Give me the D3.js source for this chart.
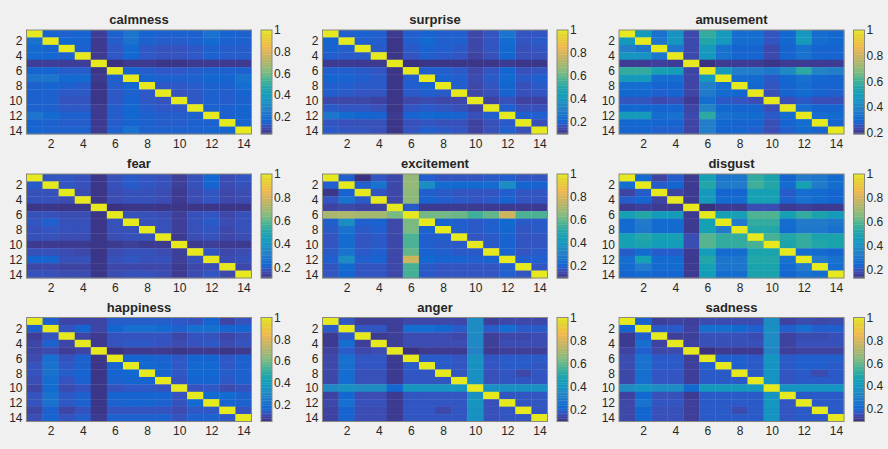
<!DOCTYPE html>
<html>
<head>
<meta charset="utf-8">
<script src="https://cdn.jsdelivr.net/npm/d3@7"></script>
<style>
  body { margin: 0; background: #f0f0f0; }
  text { font-family: "Liberation Sans", Arial, Helvetica, sans-serif; fill: #262626; }
</style>
</head>
<body>
<div class="svg-container"></div>
<script>
// emotion names, one panel each (row by row)
const emotions = ["calmness", "surprise", "amusement", "fear", "excitement", "disgust", "happiness", "anger", "sadness"];
const axisTicks = [2, 4, 6, 8, 10, 12, 14];
const colorTicks = [0.2, 0.4, 0.6, 0.8, 1];

// 14 x 14 similarity matrices
const calmness = [
  [1,.16,.15,.16,.07,.15,.22,.16,.15,.15,.15,.21,.16,.15],
  [.21,1,.17,.16,.06,.14,.21,.15,.14,.14,.15,.18,.15,.15],
  [.18,.16,1,.15,.06,.13,.18,.13,.12,.12,.13,.15,.14,.14],
  [.18,.17,.15,1,.06,.13,.17,.13,.12,.12,.13,.15,.14,.14],
  [.07,.07,.07,.07,1,.04,.06,.06,.05,.05,.06,.06,.06,.06],
  [.16,.16,.14,.14,.05,1,.16,.14,.13,.13,.14,.15,.15,.15],
  [.22,.23,.18,.18,.06,.15,1,.16,.15,.15,.15,.17,.16,.21],
  [.15,.16,.15,.14,.05,.14,.17,1,.13,.13,.14,.15,.15,.19],
  [.15,.15,.13,.13,.05,.13,.15,.13,1,.12,.13,.15,.14,.16],
  [.15,.15,.12,.12,.05,.13,.16,.13,.12,1,.13,.15,.14,.15],
  [.15,.15,.13,.13,.06,.14,.17,.14,.13,.13,1,.15,.15,.16],
  [.22,.18,.15,.15,.06,.14,.17,.15,.14,.14,.15,1,.15,.16],
  [.16,.15,.14,.14,.06,.14,.16,.15,.14,.14,.15,.15,1,.16],
  [.16,.15,.15,.15,.06,.15,.21,.15,.15,.15,.15,.16,.16,1]
];
const surprise = [
  [1,.19,.20,.19,.11,.19,.20,.19,.19,.14,.17,.26,.17,.17],
  [.21,1,.19,.19,.10,.19,.22,.19,.19,.14,.17,.23,.17,.18],
  [.20,.19,1,.18,.10,.18,.20,.19,.18,.14,.17,.22,.16,.17],
  [.19,.18,.18,1,.10,.17,.19,.18,.17,.13,.16,.21,.16,.16],
  [.11,.11,.11,.11,1,.09,.10,.10,.10,.10,.10,.11,.10,.10],
  [.19,.19,.18,.17,.10,1,.19,.19,.18,.14,.17,.21,.16,.17],
  [.21,.20,.19,.18,.10,.19,1,.20,.19,.15,.18,.22,.18,.19],
  [.19,.19,.18,.18,.10,.19,.20,1,.19,.14,.17,.21,.16,.18],
  [.19,.18,.17,.17,.10,.18,.19,.18,1,.14,.16,.20,.16,.17],
  [.14,.14,.14,.13,.10,.14,.15,.14,.14,1,.13,.16,.13,.13],
  [.18,.17,.17,.16,.10,.17,.18,.17,.16,.13,1,.19,.16,.16],
  [.27,.23,.21,.20,.11,.20,.22,.21,.20,.16,.19,1,.19,.19],
  [.17,.16,.16,.16,.10,.16,.17,.16,.16,.13,.16,.18,1,.16],
  [.18,.17,.17,.16,.10,.17,.19,.18,.17,.13,.16,.19,.16,1]
];
const amusement = [
  [1,.48,.33,.45,.24,.58,.48,.32,.32,.26,.30,.47,.32,.30],
  [.48,1,.35,.46,.24,.55,.47,.32,.32,.26,.30,.48,.32,.30],
  [.38,.35,1,.35,.24,.48,.33,.29,.29,.24,.29,.33,.29,.29],
  [.46,.45,.35,1,.24,.47,.33,.29,.29,.24,.29,.33,.29,.29],
  [.21,.21,.22,.21,1,.19,.21,.21,.21,.20,.21,.21,.21,.21],
  [.58,.58,.52,.50,.23,1,.48,.38,.38,.35,.42,.57,.40,.38],
  [.48,.48,.32,.32,.23,.48,1,.32,.31,.27,.30,.33,.30,.29],
  [.32,.32,.29,.29,.23,.38,.32,1,.30,.26,.29,.32,.29,.29],
  [.30,.30,.28,.29,.23,.36,.31,.30,1,.25,.29,.31,.29,.28],
  [.26,.26,.24,.25,.21,.32,.27,.26,.25,1,.25,.27,.25,.25],
  [.30,.30,.29,.29,.23,.40,.30,.29,.29,.25,1,.32,.29,.29],
  [.48,.48,.32,.33,.24,.57,.33,.32,.31,.27,.32,1,.32,.31],
  [.30,.30,.29,.29,.23,.38,.30,.29,.29,.25,.29,.32,1,.29],
  [.29,.29,.28,.28,.23,.38,.29,.29,.28,.25,.28,.31,.29,1]
];
const fear = [
  [1,.19,.19,.18,.12,.18,.20,.19,.18,.14,.18,.23,.17,.19],
  [.20,1,.19,.18,.12,.18,.20,.19,.18,.14,.18,.22,.17,.18],
  [.18,.18,1,.17,.12,.17,.18,.18,.17,.13,.17,.19,.16,.17],
  [.18,.18,.17,1,.12,.17,.18,.18,.17,.13,.17,.19,.16,.17],
  [.12,.12,.12,.12,1,.11,.12,.12,.12,.12,.12,.12,.12,.12],
  [.18,.18,.17,.17,.12,1,.18,.18,.17,.14,.18,.19,.16,.18],
  [.19,.21,.18,.18,.12,.18,1,.18,.18,.14,.18,.20,.17,.18],
  [.18,.19,.18,.18,.12,.18,.18,1,.18,.14,.18,.19,.16,.18],
  [.18,.18,.17,.17,.12,.17,.18,.18,1,.13,.17,.18,.16,.17],
  [.13,.13,.13,.13,.12,.13,.14,.13,.13,1,.13,.14,.13,.13],
  [.18,.18,.17,.16,.12,.17,.18,.18,.17,.14,1,.19,.16,.17],
  [.22,.22,.18,.18,.12,.18,.19,.18,.18,.14,.18,1,.17,.18],
  [.16,.16,.15,.15,.12,.16,.16,.16,.16,.13,.16,.17,1,.16],
  [.18,.18,.17,.17,.12,.17,.18,.18,.17,.13,.17,.19,.16,1]
];
const excitement = [
  [1,.19,.09,.17,.14,.67,.19,.17,.17,.17,.18,.19,.17,.17],
  [.19,1,.19,.25,.14,.67,.36,.23,.22,.22,.23,.36,.21,.20],
  [.10,.20,1,.17,.14,.66,.19,.18,.17,.17,.17,.19,.17,.17],
  [.17,.25,.18,1,.14,.66,.20,.19,.18,.17,.18,.20,.17,.17],
  [.13,.14,.13,.13,1,.18,.11,.11,.11,.11,.11,.11,.11,.11],
  [.71,.72,.70,.70,.63,1,.62,.62,.61,.55,.60,.78,.57,.57],
  [.19,.36,.19,.20,.14,.63,1,.20,.19,.18,.19,.22,.18,.18],
  [.18,.25,.18,.19,.14,.63,.20,1,.19,.18,.19,.21,.17,.18],
  [.17,.23,.17,.18,.14,.57,.19,.19,1,.17,.18,.20,.17,.17],
  [.17,.23,.17,.18,.14,.57,.19,.18,.18,1,.18,.20,.17,.17],
  [.18,.25,.18,.19,.14,.60,.20,.19,.18,.18,1,.20,.17,.18],
  [.19,.36,.19,.20,.14,.78,.22,.20,.20,.19,.20,1,.19,.19],
  [.17,.22,.17,.17,.14,.56,.18,.17,.17,.17,.17,.19,1,.17],
  [.17,.21,.17,.17,.14,.56,.18,.17,.17,.17,.17,.19,.17,1]
];
const disgust = [
  [1,.26,.17,.22,.15,.48,.30,.30,.55,.50,.24,.32,.30,.26],
  [.27,1,.22,.24,.15,.52,.32,.32,.57,.52,.26,.48,.32,.27],
  [.17,.22,1,.17,.15,.44,.24,.24,.48,.48,.22,.27,.26,.24],
  [.22,.24,.17,1,.15,.45,.26,.26,.48,.48,.23,.28,.26,.24],
  [.15,.16,.15,.15,1,.13,.15,.15,.19,.19,.15,.16,.15,.15],
  [.48,.52,.45,.45,.15,1,.48,.48,.59,.59,.48,.55,.50,.45],
  [.26,.32,.26,.26,.15,.48,1,.32,.55,.55,.27,.32,.32,.30],
  [.26,.31,.26,.26,.15,.48,.32,1,.52,.52,.26,.31,.31,.28],
  [.48,.52,.48,.48,.19,.60,.55,.55,1,.58,.52,.55,.50,.50],
  [.48,.50,.46,.46,.19,.60,.55,.55,.58,1,.50,.55,.52,.50],
  [.22,.26,.22,.22,.15,.46,.26,.26,.50,.50,1,.27,.26,.24],
  [.27,.48,.26,.26,.15,.52,.30,.30,.52,.52,.28,1,.32,.28],
  [.26,.32,.26,.26,.15,.48,.30,.30,.50,.50,.26,.32,1,.27],
  [.24,.26,.24,.24,.15,.46,.27,.27,.50,.50,.24,.28,.27,1]
];
const happiness = [
  [1,.15,.09,.09,.09,.14,.14,.14,.14,.13,.12,.16,.09,.12],
  [.15,1,.12,.16,.09,.16,.20,.20,.18,.15,.20,.20,.16,.16],
  [.07,.12,1,.09,.06,.12,.12,.12,.12,.09,.12,.12,.09,.11],
  [.09,.15,.09,1,.06,.12,.13,.13,.12,.10,.12,.13,.10,.12],
  [.09,.10,.07,.09,1,.04,.06,.06,.06,.05,.06,.06,.05,.06],
  [.10,.20,.12,.15,.05,1,.16,.16,.15,.13,.16,.16,.13,.15],
  [.12,.21,.13,.15,.05,.16,1,.17,.16,.13,.17,.17,.13,.15],
  [.12,.21,.14,.16,.05,.16,.17,1,.16,.13,.17,.17,.14,.15],
  [.11,.19,.12,.15,.05,.15,.16,.16,1,.12,.16,.16,.13,.15],
  [.09,.18,.10,.12,.05,.12,.13,.13,.12,1,.12,.13,.10,.12],
  [.12,.21,.13,.15,.05,.16,.16,.16,.16,.12,1,.18,.18,.15],
  [.12,.21,.13,.15,.05,.15,.16,.16,.15,.12,.18,1,.16,.15],
  [.09,.15,.09,.12,.05,.12,.12,.12,.12,.10,.13,.13,1,.12],
  [.11,.16,.12,.14,.06,.15,.15,.15,.15,.12,.15,.15,.13,1]
];
const anger = [
  [1,.18,.13,.13,.13,.15,.15,.15,.15,.36,.13,.15,.15,.15],
  [.19,1,.18,.18,.13,.24,.24,.22,.19,.36,.19,.24,.19,.19],
  [.12,.19,1,.12,.13,.16,.16,.16,.15,.35,.13,.15,.15,.16],
  [.12,.24,.13,1,.13,.16,.16,.16,.16,.35,.13,.16,.16,.16],
  [.14,.19,.15,.16,1,.10,.12,.12,.12,.33,.12,.13,.13,.13],
  [.15,.25,.18,.18,.12,1,.19,.19,.18,.38,.18,.19,.19,.19],
  [.15,.25,.18,.18,.12,.19,1,.19,.18,.38,.18,.19,.19,.18],
  [.15,.24,.17,.17,.12,.18,.18,1,.18,.38,.17,.18,.15,.18],
  [.15,.24,.17,.17,.12,.18,.18,.18,1,.38,.17,.18,.18,.18],
  [.35,.38,.36,.36,.22,.40,.40,.40,.40,1,.38,.38,.38,.38],
  [.14,.22,.16,.16,.12,.18,.18,.18,.18,.38,1,.18,.18,.18],
  [.15,.25,.17,.17,.12,.18,.18,.18,.18,.40,.17,1,.18,.18],
  [.14,.21,.16,.16,.12,.18,.18,.15,.18,.38,.17,.18,1,.18],
  [.14,.21,.16,.16,.12,.18,.18,.18,.18,.38,.17,.18,.18,1]
];
const sadness = [
  [1,.20,.12,.13,.12,.15,.15,.15,.15,.36,.13,.15,.14,.15],
  [.21,1,.18,.18,.13,.24,.24,.22,.19,.37,.19,.24,.19,.19],
  [.11,.19,1,.12,.12,.16,.16,.16,.15,.35,.13,.15,.15,.16],
  [.11,.24,.13,1,.13,.16,.16,.16,.16,.35,.13,.16,.16,.16],
  [.13,.19,.14,.15,1,.09,.11,.11,.11,.33,.12,.13,.13,.13],
  [.15,.25,.18,.18,.12,1,.19,.19,.18,.39,.18,.19,.19,.19],
  [.15,.25,.18,.18,.12,.19,1,.19,.18,.39,.18,.19,.19,.18],
  [.14,.24,.17,.17,.12,.18,.18,1,.18,.39,.17,.18,.15,.18],
  [.14,.24,.17,.17,.12,.18,.18,.18,1,.39,.17,.18,.18,.18],
  [.35,.39,.36,.36,.22,.41,.41,.41,.41,1,.39,.39,.39,.39],
  [.13,.22,.16,.16,.11,.18,.18,.18,.18,.39,1,.18,.18,.18],
  [.14,.25,.17,.17,.12,.18,.18,.18,.18,.40,.17,1,.18,.18],
  [.14,.21,.16,.16,.12,.18,.18,.15,.18,.39,.17,.18,1,.18],
  [.14,.21,.16,.16,.12,.18,.18,.18,.18,.39,.17,.18,.18,1]
];

const matrices = [calmness, surprise, amusement, fear, excitement, disgust, happiness, anger, sadness];

// MATLAB parula colormap (64 entries), toned down a little like the printed figure
const parulaMap = [
  [.2081,.1663,.5292],[.2116,.1898,.5777],[.2123,.2138,.6270],[.2081,.2386,.6771],
  [.1959,.2645,.7279],[.1707,.2919,.7792],[.1253,.3242,.8303],[.0591,.3598,.8683],
  [.0117,.3875,.8820],[.0060,.4086,.8828],[.0165,.4266,.8786],[.0329,.4430,.8720],
  [.0498,.4586,.8641],[.0629,.4737,.8554],[.0723,.4887,.8467],[.0779,.5040,.8384],
  [.0793,.5200,.8312],[.0749,.5375,.8263],[.0641,.5570,.8240],[.0488,.5772,.8228],
  [.0343,.5966,.8199],[.0265,.6137,.8135],[.0239,.6287,.8038],[.0231,.6418,.7913],
  [.0228,.6535,.7768],[.0267,.6642,.7607],[.0384,.6743,.7436],[.0590,.6838,.7254],
  [.0843,.6928,.7062],[.1133,.7015,.6859],[.1453,.7098,.6646],[.1801,.7177,.6424],
  [.2178,.7250,.6193],[.2586,.7317,.5954],[.3022,.7376,.5712],[.3482,.7424,.5473],
  [.3953,.7459,.5244],[.4420,.7481,.5033],[.4871,.7491,.4840],[.5300,.7491,.4661],
  [.5709,.7485,.4494],[.6099,.7473,.4337],[.6473,.7456,.4188],[.6834,.7435,.4044],
  [.7184,.7411,.3905],[.7525,.7384,.3768],[.7858,.7356,.3633],[.8185,.7327,.3498],
  [.8507,.7299,.3360],[.8824,.7274,.3217],[.9139,.7258,.3063],[.9450,.7261,.2886],
  [.9739,.7314,.2666],[.9938,.7455,.2403],[.9990,.7653,.2164],[.9955,.7861,.1967],
  [.9880,.8066,.1794],[.9789,.8271,.1633],[.9697,.8481,.1475],[.9626,.8705,.1309],
  [.9589,.8949,.1132],[.9598,.9218,.0948],[.9661,.9514,.0755],[.9763,.9831,.0538]
].map(c => {
  const col = d3.hsl(d3.rgb(c[0] * 255, c[1] * 255, c[2] * 255));
  col.s *= 0.85;
  return col.rgb();
});
const parula = d3.piecewise(d3.interpolateRgb, parulaMap);

const w = 888, h = 449;
const plotW = 225, plotH = 104;
const colLeft = [26.5, 322.5, 619];
const rowTop = [30, 174, 317.5];
const cbGap = 9.5, cbW = 11;

const svg = d3.select(".svg-container")
  .append("svg")
  .attr("width", w)
  .attr("height", h)
  .style("display", "block");

svg.append("rect").attr("width", w).attr("height", h).attr("fill", "#f0f0f0");

emotions.forEach(function (name, i) {
  const data = matrices[i];
  const x0 = colLeft[i % 3], y0 = rowTop[Math.floor(i / 3)];
  const g = svg.append("g").attr("transform", "translate(" + x0 + "," + y0 + ")");

  const n = data.length;
  const xScale = d3.scaleLinear().domain([0.5, n + 0.5]).range([0, plotW]);
  const yScale = d3.scaleLinear().domain([0.5, n + 0.5]).range([0, plotH]);

  // colour limits follow the data, as with imagesc
  const cmin = d3.min(data, r => d3.min(r));
  const color = d3.scaleSequential(parula).domain([cmin, 1]);

  // cells
  const cells = [];
  data.forEach((row, r) => row.forEach((v, c) => cells.push({ r: r + 1, c: c + 1, v: v })));
  g.selectAll("rect.cell")
    .data(cells)
    .enter()
    .append("rect")
    .attr("class", "cell")
    .attr("x", d => xScale(d.c - 0.5))
    .attr("y", d => yScale(d.r - 0.5))
    .attr("width", xScale(1.5) - xScale(0.5) + 0.3)
    .attr("height", yScale(1.5) - yScale(0.5) + 0.3)
    .attr("fill", d => color(d.v));

  g.append("rect")
    .attr("width", plotW).attr("height", plotH)
    .attr("fill", "none").attr("stroke", "#8a8a80").attr("stroke-width", 1);

  // axes
  const yAxis = d3.axisLeft(yScale).tickValues(axisTicks).tickSize(0).tickPadding(4);
  const xAxis = d3.axisBottom(xScale).tickValues(axisTicks).tickSize(0).tickPadding(5);
  const ya = g.append("g").call(yAxis);
  const xa = g.append("g").attr("transform", "translate(0," + plotH + ")").call(xAxis);
  [ya, xa].forEach(a => {
    a.select(".domain").remove();
    a.selectAll("text").style("font-size", "12px").attr("fill", "#262626");
  });

  // title
  g.append("text")
    .attr("x", plotW / 2)
    .attr("y", -6)
    .attr("text-anchor", "middle")
    .style("font-size", "13px")
    .style("font-weight", "bold")
    .attr("fill", "#1a1a1a")
    .text(name);

  // colorbar
  const cb = g.append("g").attr("transform", "translate(" + (plotW + cbGap) + ",0)");
  const cScale = d3.scaleLinear().domain([cmin, 1]).range([plotH, 0]);
  const steps = d3.range(64).map(k => cmin + (k + 0.5) * (1 - cmin) / 64);
  cb.selectAll("rect.step")
    .data(steps)
    .enter()
    .append("rect")
    .attr("class", "step")
    .attr("x", 0)
    .attr("width", cbW)
    .attr("y", d => cScale(d + (1 - cmin) / 128))
    .attr("height", plotH / 64 + 0.3)
    .attr("fill", d => color(d));
  cb.append("rect")
    .attr("width", cbW).attr("height", plotH)
    .attr("fill", "none").attr("stroke", "#8a8a80").attr("stroke-width", 1);
  const cAxis = d3.axisRight(cScale)
    .tickValues(colorTicks.filter(t => t >= cmin))
    .tickFormat(d3.format("~g"))
    .tickSize(0).tickPadding(2);
  const ca = cb.append("g").attr("transform", "translate(" + cbW + ",0)").call(cAxis);
  ca.select(".domain").remove();
  ca.selectAll("text").style("font-size", "12px").attr("fill", "#262626");
});
</script>
</body>
</html>
